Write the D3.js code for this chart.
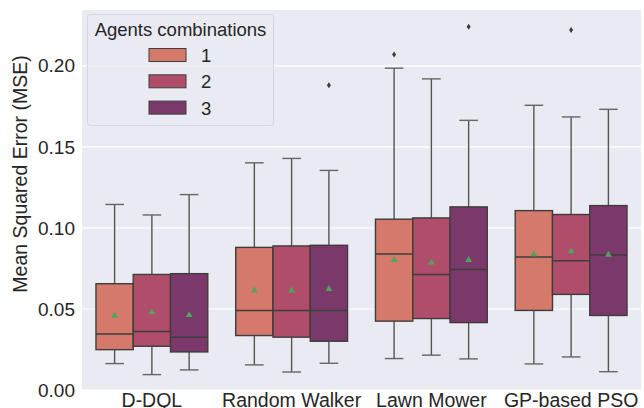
<!DOCTYPE html>
<html><head><meta charset="utf-8">
<script src="https://cdn.jsdelivr.net/npm/d3@7"></script>
<style>body{margin:0;background:#fff}svg{display:block;font-family:"Liberation Sans",Arial,sans-serif}</style>
</head><body><svg id="c" width="644" height="408"></svg>
<script>
const categories = ["D-DQL", "Random Walker", "Lawn Mower", "GP-based PSO"];
const hues = ["1", "2", "3"];
const colors = ["#d5796b", "#b04d6a", "#7b386a"];
// [whiskerLow, Q1, median, Q3, whiskerHigh, mean] per category, per hue
const stats1 = [[0.0163,0.0249,0.0345,0.0656,0.1145,0.0458],[0.0155,0.0336,0.0490,0.0880,0.1402,0.0614],[0.0194,0.0425,0.0840,0.1054,0.1986,0.0802],[0.0161,0.0491,0.0821,0.1107,0.1757,0.0837]];
const stats2 = [[0.0095,0.0270,0.0361,0.0713,0.1080,0.0481],[0.0111,0.0326,0.0490,0.0889,0.1429,0.0614],[0.0215,0.0441,0.0713,0.1062,0.1920,0.0786],[0.0204,0.0590,0.0798,0.1083,0.1685,0.0856]];
const stats3 = [[0.0124,0.0235,0.0326,0.0718,0.1206,0.0462],[0.0165,0.0301,0.0490,0.0893,0.1355,0.0623],[0.0192,0.0416,0.0744,0.1130,0.1664,0.0802],[0.0113,0.0460,0.0833,0.1138,0.1732,0.0835]];
// outliers: [categoryIndex, hueIndex, value]
const outliers = [[1,2,0.188],[2,0,0.2071],[2,2,0.2242],[3,1,0.2221]];
const yTicks = [0.00, 0.05, 0.10, 0.15, 0.20];

const svg = d3.select("#c");
const L=82, R=641, T=10, B=390;
const y = d3.scaleLinear().domain([0, 0.2345]).range([B, T]);
const x0 = d3.scaleBand().domain(categories).range([L, R]);
const bw = x0.bandwidth();
const x1 = d3.scaleBand().domain(hues).range([bw*0.1, bw*0.9]);

svg.append("rect").attr("x",L).attr("y",T).attr("width",R-L).attr("height",B-T).attr("fill","#eaeaf2");
svg.append("g").selectAll("line").data(yTicks).join("line")
  .attr("x1",L).attr("x2",R).attr("y1",d=>y(d)).attr("y2",d=>y(d))
  .attr("stroke","#fff").attr("stroke-width",1.2);

const yAxis = d3.axisLeft(y).tickValues(yTicks).tickFormat(d3.format(".2f")).tickSize(0).tickPadding(7);
const gy = svg.append("g").attr("transform",`translate(${L},0)`).call(yAxis);
gy.select(".domain").remove();
gy.selectAll("text").attr("font-size",19).attr("fill","#262626").attr("font-family","'Liberation Sans',Arial,sans-serif");

const xAxis = d3.axisBottom(x0).tickSize(0).tickPadding(0);
const gx = svg.append("g").attr("transform",`translate(0,${B})`).call(xAxis);
gx.select(".domain").remove();
gx.selectAll("text").attr("dy",null).attr("y",17).attr("font-size",19.5).attr("fill","#262626").attr("font-family","'Liberation Sans',Arial,sans-serif");

svg.append("text").attr("transform",`translate(27,174) rotate(-90)`)
  .attr("text-anchor","middle").attr("font-size",19.5).attr("fill","#262626").text("Mean Squared Error (MSE)");

const all = [stats1, stats2, stats3];
const g = svg.append("g");
categories.forEach((c,ci)=>{
  hues.forEach((h,hi)=>{
    const s = all[hi][ci];
    const bx = x0(c) + x1(h);
    const w = x1.bandwidth();
    const cx = bx + w/2;
    g.append("line").attr("x1",cx).attr("x2",cx).attr("y1",y(s[0])).attr("y2",y(s[1])).attr("stroke","#555").attr("stroke-width",1.4);
    g.append("line").attr("x1",cx).attr("x2",cx).attr("y1",y(s[3])).attr("y2",y(s[4])).attr("stroke","#555").attr("stroke-width",1.4);
    g.append("line").attr("x1",cx-w/4).attr("x2",cx+w/4).attr("y1",y(s[0])).attr("y2",y(s[0])).attr("stroke","#666").attr("stroke-width",1.4);
    g.append("line").attr("x1",cx-w/4).attr("x2",cx+w/4).attr("y1",y(s[4])).attr("y2",y(s[4])).attr("stroke","#666").attr("stroke-width",1.4);
    g.append("rect").attr("x",bx).attr("width",w).attr("y",y(s[3])).attr("height",y(s[1])-y(s[3]))
      .attr("fill",colors[hi]).attr("stroke","#3d3d3d").attr("stroke-width",1.4);
    g.append("line").attr("x1",bx).attr("x2",bx+w).attr("y1",y(s[2])).attr("y2",y(s[2])).attr("stroke","#3d3d3d").attr("stroke-width",1.5);
    g.append("path").attr("d",d3.symbol(d3.symbolTriangle,20)()).attr("transform",`translate(${cx},${y(s[5])})`).attr("fill","#4ea45c");
  });
});
outliers.forEach(o=>{
  const cx = x0(categories[o[0]]) + x1(hues[o[1]]) + x1.bandwidth()/2;
  g.append("path").attr("d","M0,-3L2,0L0,3L-2,0Z").attr("transform",`translate(${cx},${y(o[2])})`).attr("fill","#3d3d3d");
});

// legend
const lg = svg.append("g");
lg.append("rect").attr("x",87.5).attr("y",14.5).attr("width",186).attr("height",111).attr("rx",3)
  .attr("fill","#eaeaf2").attr("fill-opacity",0.85).attr("stroke","#d6d6de");
lg.append("text").attr("x",180.5).attr("y",35.5).attr("text-anchor","middle").attr("font-size",18.5).attr("fill","#262626").text("Agents combinations");
hues.forEach((h,i)=>{
  const cy = 55 + i*26.3;
  lg.append("rect").attr("x",149).attr("y",cy-6.5).attr("width",37).attr("height",13).attr("fill",colors[i]).attr("stroke","#3d3d3d").attr("stroke-width",1);
  lg.append("text").attr("x",201).attr("y",cy+7).attr("font-size",18.5).attr("fill","#262626").text(h);
});
</script></body></html>
